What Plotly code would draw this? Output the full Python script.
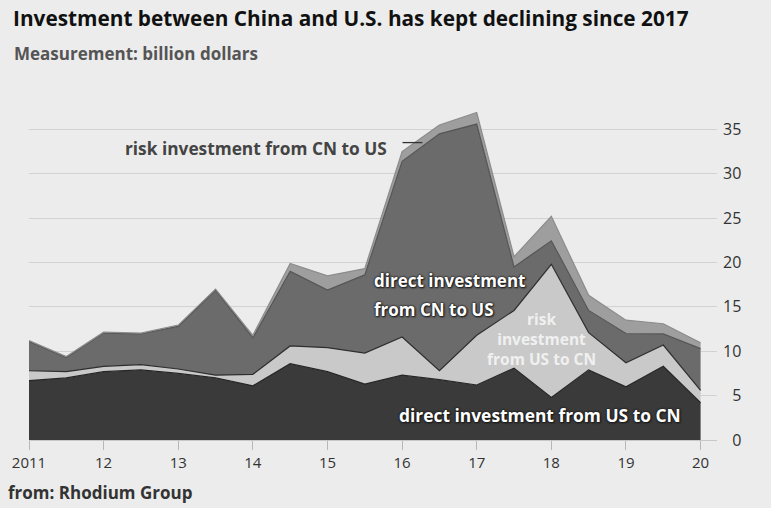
import plotly.graph_objects as go

# Half-year periods, 2011 to 2020
periods = [2011.0, 2011.5, 2012.0, 2012.5, 2013.0, 2013.5, 2014.0, 2014.5, 2015.0, 2015.5,
           2016.0, 2016.5, 2017.0, 2017.5, 2018.0, 2018.5, 2019.0, 2019.5, 2020.0]

# Billion dollars per series (stacked bottom to top)
direct_us_to_cn = [6.7, 7.0, 7.7, 7.9, 7.5, 7.0, 6.1, 8.6, 7.7, 6.3,
                   7.3, 6.8, 6.2, 8.1, 4.8, 7.9, 6.0, 8.3, 4.2]
risk_us_to_cn = [1.1, 0.7, 0.6, 0.6, 0.5, 0.3, 1.3, 2.0, 2.7, 3.5,
                 4.3, 1.0, 5.6, 6.5, 15.0, 4.2, 2.7, 2.4, 1.4]
direct_cn_to_us = [3.3, 1.6, 3.75, 3.45, 4.8, 9.6, 4.1, 8.4, 6.5, 8.8,
                   19.8, 26.7, 23.8, 4.9, 2.65, 2.5, 3.3, 1.25, 4.7]
risk_cn_to_us = [0.1, 0.1, 0.1, 0.1, 0.15, 0.1, 0.3, 0.9, 1.6, 0.7,
                 1.1, 1.0, 1.3, 1.15, 2.75, 1.7, 1.5, 1.15, 0.66]

year_ticks = [2011, 2012, 2013, 2014, 2015, 2016, 2017, 2018, 2019, 2020]
year_labels = ["2011", "12", "13", "14", "15", "16", "17", "18", "19", "20"]
value_ticks = [0, 5, 10, 15, 20, 25, 30, 35]
# figure spaces keep single-digit labels right-aligned with the two-digit ones
value_labels = ["\u2007" + str(v) if v < 10 else str(v) for v in value_ticks]

W, H = 771, 508
M_L, M_R, M_T, M_B = 25.7, 54, 84.9, 68
PW, PH = W - M_L - M_R, H - M_T - M_B


def px(x):
    return (x - M_L) / PW


def py(y):
    return 1 - (y - M_T) / PH


FONT = "Open Sans"

series = [
    ("direct investment from US to CN", direct_us_to_cn, "#3a3a3a", "#262626"),
    ("risk investment from US to CN", risk_us_to_cn, "#c9c9c9", "#2e2e2e"),
    ("direct investment from CN to US", direct_cn_to_us, "#6b6b6b", "#555555"),
    ("risk investment from CN to US", risk_cn_to_us, "#9e9e9e", "#8c8c8c"),
]

fig = go.Figure()
for name, vals, fill, edge in series:
    fig.add_trace(go.Scatter(
        x=periods, y=vals, name=name, mode="lines", stackgroup="inv",
        line=dict(color=edge, width=1.2), fillcolor=fill, hoverinfo="skip",
    ))

shadow = "0 0 2px #1a1a1a, 0 0 2px #1a1a1a, 1px 1px 2px #1a1a1a"
anns = [
    dict(x=px(8), y=py(18), text="<b>Investment between China and U.S. has kept declining since 2017</b>",
         font=dict(family=FONT, size=20.8, color="#111111"), xanchor="left"),
    dict(x=px(9), y=py(53), text="<b>Measurement: billion dollars</b>",
         font=dict(family=FONT, size=17, color="#555555"), xanchor="left"),
    dict(x=px(3), y=py(493), text="<b>from: Rhodium Group</b>",
         font=dict(family=FONT, size=17, color="#333333"), xanchor="left"),
    dict(x=px(387), y=py(148), text="<b>risk investment from CN to US</b>",
         font=dict(family=FONT, size=17.3, color="#444444"), xanchor="right"),
    dict(x=px(370), y=py(280), text="<b>direct investment</b>",
         font=dict(family=FONT, size=17, color="#ffffff", shadow=shadow), xanchor="left"),
    dict(x=px(370), y=py(309), text="<b>from CN to US</b>",
         font=dict(family=FONT, size=17, color="#ffffff", shadow=shadow), xanchor="left"),
    dict(x=px(541), y=py(339), text="<b>risk</b><br><b>investment</b><br><b>from US to CN</b>",
         font=dict(family=FONT, size=15.5, color="#f0f0f0"), xanchor="center", align="center"),
    dict(x=px(539), y=py(415), text="<b>direct investment from US to CN</b>",
         font=dict(family=FONT, size=17.4, color="#ffffff", shadow=shadow), xanchor="center"),
]
for a in anns:
    a.update(xref="paper", yref="paper", yanchor="middle", showarrow=False)
fig.update_layout(annotations=anns)

# short leader line beside the top-layer label
fig.add_shape(type="line", xref="paper", yref="paper",
              x0=px(401), x1=px(421), y0=py(142.5), y1=py(142.5),
              line=dict(color="#333333", width=1.3))

fig.update_layout(
    width=W, height=H,
    margin=dict(l=M_L, r=M_R, t=M_T, b=M_B, pad=0),
    paper_bgcolor="#ececec", plot_bgcolor="#ececec",
    showlegend=False,
    xaxis=dict(range=[2011, 2020.22], tickvals=year_ticks, ticktext=year_labels,
               showgrid=False, zeroline=False, showline=True, linecolor="#c8c8c8",
               ticks="outside", ticklen=9, tickcolor="#b8b8b8", tickwidth=1,
               tickfont=dict(family=FONT, size=15, color="#333333")),
    yaxis=dict(range=[0, 40], side="right", tickvals=value_ticks, ticktext=value_labels,
               showgrid=True, gridcolor="#d2d2d2", gridwidth=1.2, zeroline=False,
               ticks="", ticklabelstandoff=5,
               tickfont=dict(family=FONT, size=16, color="#333333")),
)

fig.write_html("out.html")
